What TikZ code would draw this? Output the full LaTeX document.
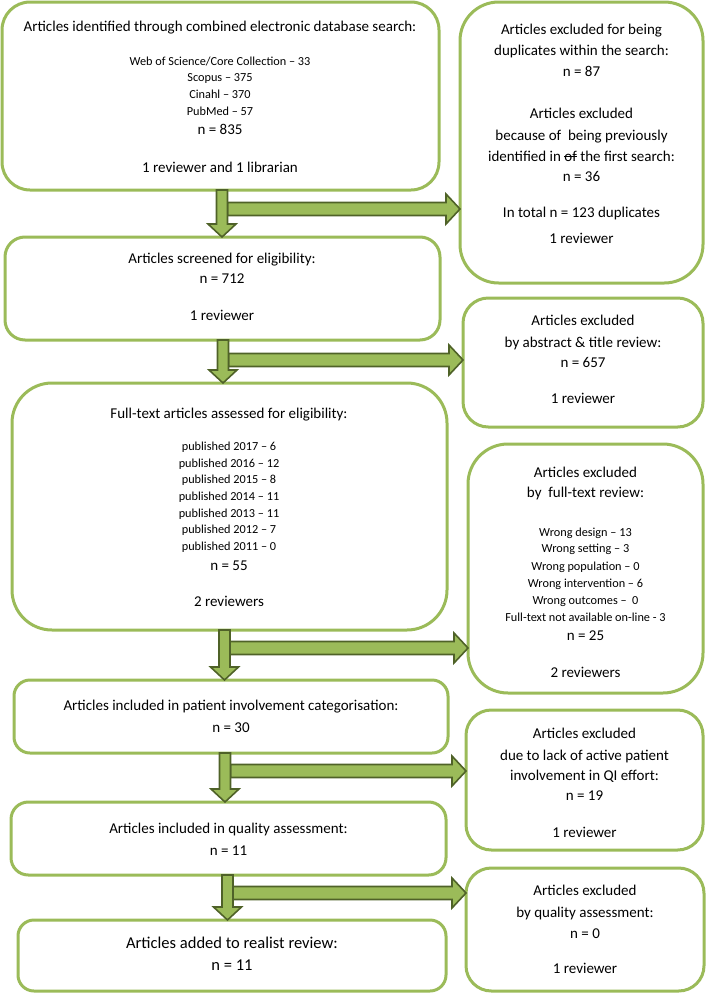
\documentclass[tikz,border=0pt]{standalone}
\usepackage{fontspec}
\setmainfont{Carlito}
\usetikzlibrary{fit,calc}
\definecolor{boxgreen}{HTML}{9BBB59}
\definecolor{arrowdark}{HTML}{4F6228}
\newcommand{\mystrike}[1]{\begingroup\setbox0\hbox{#1}\rlap{\rule[0.28em]{\wd0}{0.07em}}\box0\endgroup}
\tikzset{
  box/.style={draw=boxgreen, line width=2.25pt, fill=white, inner sep=0pt, outer sep=0pt},
  blk/.style={fill=boxgreen, draw=arrowdark, line width=1.2pt, line join=miter},
  tx/.style={anchor=base, inner sep=0pt, font=\fontsize{11.25}{13}\selectfont},
  sm/.style={anchor=base, inner sep=0pt, font=\fontsize{9.2}{11}\selectfont},
  lg/.style={anchor=base, inner sep=0pt, font=\fontsize{12.4}{14}\selectfont},
}
% vertical block arrow: from node #1 (south) to node #2 (north), centre x #3 (px)
\newcommand{\vblk}[3]{%
  \draw[blk] let \p1=(#1.south), \p2=(#2.north) in
    ({(#3-5.5)*0.75pt},\y1) -- ({(#3+5.5)*0.75pt},\y1) -- ({(#3+5.5)*0.75pt},{\y2+9.75pt})
    -- ({(#3+14)*0.75pt},{\y2+9.75pt}) -- ({#3*0.75pt},\y2) -- ({(#3-14)*0.75pt},{\y2+9.75pt})
    -- ({(#3-5.5)*0.75pt},{\y2+9.75pt}) -- cycle;}
% horizontal block arrow: from stem right x #1 (px), at y #2 (px), to node #3 (west)
\newcommand{\hblk}[3]{%
  \draw[blk] let \p1=(#3.west) in
    ({#1*0.75pt},{-(#2-6.5)*0.75pt}) -- ({\x1-10.5pt},{-(#2-6.5)*0.75pt})
    -- ({\x1-10.5pt},{-(#2-15)*0.75pt}) -- (\x1,{-#2*0.75pt})
    -- ({\x1-10.5pt},{-(#2+15)*0.75pt}) -- ({\x1-10.5pt},{-(#2+6.5)*0.75pt})
    -- ({#1*0.75pt},{-(#2+6.5)*0.75pt}) -- cycle;}
\begin{document}
\begin{tikzpicture}[x=0.75pt,y=-0.75pt]
\useasboundingbox (0,0) rectangle (709,993);
% boxes
\node[box, rounded corners=21pt, fit={(2,2) (439,190)}] (b1) {};
\node[box, rounded corners=29pt, fit={(460,2) (703,283)}] (b2) {};
\node[box, rounded corners=15pt, fit={(5,237) (440,340)}] (b3) {};
\node[box, rounded corners=19pt, fit={(463,298) (703,427)}] (b4) {};
\node[box, rounded corners=30pt, fit={(12,383) (447,630)}] (b5) {};
\node[box, rounded corners=30pt, fit={(468,444) (703,693)}] (b6) {};
\node[box, rounded corners=12pt, fit={(14,680) (448,753)}] (b7) {};
\node[box, rounded corners=19pt, fit={(466,710) (703,850)}] (b8) {};
\node[box, rounded corners=13pt, fit={(11,802) (446,875)}] (b9) {};
\node[box, rounded corners=12pt, fit={(18,920) (446,991)}] (b10) {};
\node[box, rounded corners=19pt, fit={(466,868) (704,991)}] (b11) {};
% arrows
\hblk{227.5}{209}{b2}
\vblk{b1}{b3}{222}
\hblk{228.5}{360}{b4}
\vblk{b3}{b5}{223}
\hblk{230}{648}{b6}
\vblk{b5}{b7}{224.5}
\hblk{230.5}{771}{b8}
\vblk{b7}{b9}{225}
\hblk{233}{893}{b11}
\vblk{b9}{b10}{227.5}
% box 1 text
\node[tx] (t1a) at (220,31) {Articles identified through combined electronic database search:};
\node[sm] (t1b) at (220,65) {Web of Science/Core Collection – 33};
\node[sm] (t1c) at (220,81) {Scopus – 375};
\node[sm] (t1d) at (220,98) {Cinahl – 370};
\node[sm] (t1e) at (220,115) {PubMed – 57};
\node[tx] (t1f) at (220,134) {n = 835};
\node[tx] (t1g) at (220,172) {1 reviewer and 1 librarian};
% box 2 text
\node[tx] (t2a) at (581.5,34) {Articles excluded for being};
\node[tx] (t2b) at (581.5,55) {duplicates within the search:};
\node[tx] (t2c) at (581.5,76) {n = 87};
\node[tx] (t2d) at (581.5,118) {Articles excluded};
\node[tx] (t2e) at (581.5,140) {because of\ \ being previously};
\node[tx] (t2f) at (581.5,161) {identified in \mystrike{of} the first search:};
\node[tx] (t2g) at (581.5,181) {n = 36};
\node[tx] (t2h) at (581.5,217) {In total n = 123 duplicates};
\node[tx] (t2i) at (581.5,243) {1 reviewer};
% box 3 text
\node[tx] (t3a) at (222,263) {Articles screened for eligibility:};
\node[tx] (t3b) at (222,283) {n = 712};
\node[tx] (t3c) at (222,320) {1 reviewer};
% box 4 text
\node[tx] (t4a) at (583,325) {Articles excluded};
\node[tx] (t4b) at (583,347) {by abstract \& title review:};
\node[tx] (t4c) at (583,367) {n = 657};
\node[tx] (t4d) at (583,403) {1 reviewer};
% box 5 text
\node[tx] (t5a) at (229,418) {Full-text articles assessed for eligibility:};
\node[sm] (t5b) at (229,450) {published 2017 – 6};
\node[sm] (t5c) at (229,467) {published 2016 – 12};
\node[sm] (t5d) at (229,483) {published 2015 – 8};
\node[sm] (t5e) at (229,500) {published 2014 – 11};
\node[sm] (t5f) at (229,517) {published 2013 – 11};
\node[sm] (t5g) at (229,533) {published 2012 – 7};
\node[sm] (t5h) at (229,550) {published 2011 – 0};
\node[tx] (t5i) at (229,570) {n = 55};
\node[tx] (t5j) at (229,606) {2 reviewers};
% box 6 text
\node[tx] (t6a) at (585.5,477) {Articles excluded};
\node[tx] (t6b) at (585.5,497) {by\ \ full-text review:};
\node[sm] (t6c) at (585.5,536) {Wrong design – 13};
\node[sm] (t6d) at (585.5,552) {Wrong setting – 3};
\node[sm] (t6e) at (585.5,570) {Wrong population – 0};
\node[sm] (t6f) at (585.5,587) {Wrong intervention – 6};
\node[sm] (t6g) at (585.5,604) {Wrong outcomes –\ \ 0};
\node[sm] (t6h) at (585.5,621) {Full-text not available on-line - 3};
\node[tx] (t6i) at (585.5,640) {n = 25};
\node[tx] (t6j) at (585.5,677) {2 reviewers};
% box 7 text
\node[tx] (t7a) at (231,710) {Articles included in patient involvement categorisation:};
\node[tx] (t7b) at (231,732) {n = 30};
% box 8 text
\node[tx] (t8a) at (584.5,738) {Articles excluded};
\node[tx] (t8b) at (584.5,760) {due to lack of active patient};
\node[tx] (t8c) at (584.5,780) {involvement in QI effort:};
\node[tx] (t8d) at (584.5,800) {n = 19};
\node[tx] (t8e) at (584.5,837) {1 reviewer};
% box 9 text
\node[tx] (t9a) at (228.5,833) {Articles included in quality assessment:};
\node[tx] (t9b) at (228.5,855) {n = 11};
% box 10 text
\node[lg] (t10a) at (232,948) {Articles added to realist review:};
\node[lg] (t10b) at (232,970) {n = 11};
% box 11 text
\node[tx] (t11a) at (585,895) {Articles excluded};
\node[tx] (t11b) at (585,917) {by quality assessment:};
\node[tx] (t11c) at (585,938) {n = 0};
\node[tx] (t11d) at (585,973) {1 reviewer};
\end{tikzpicture}
\end{document}
